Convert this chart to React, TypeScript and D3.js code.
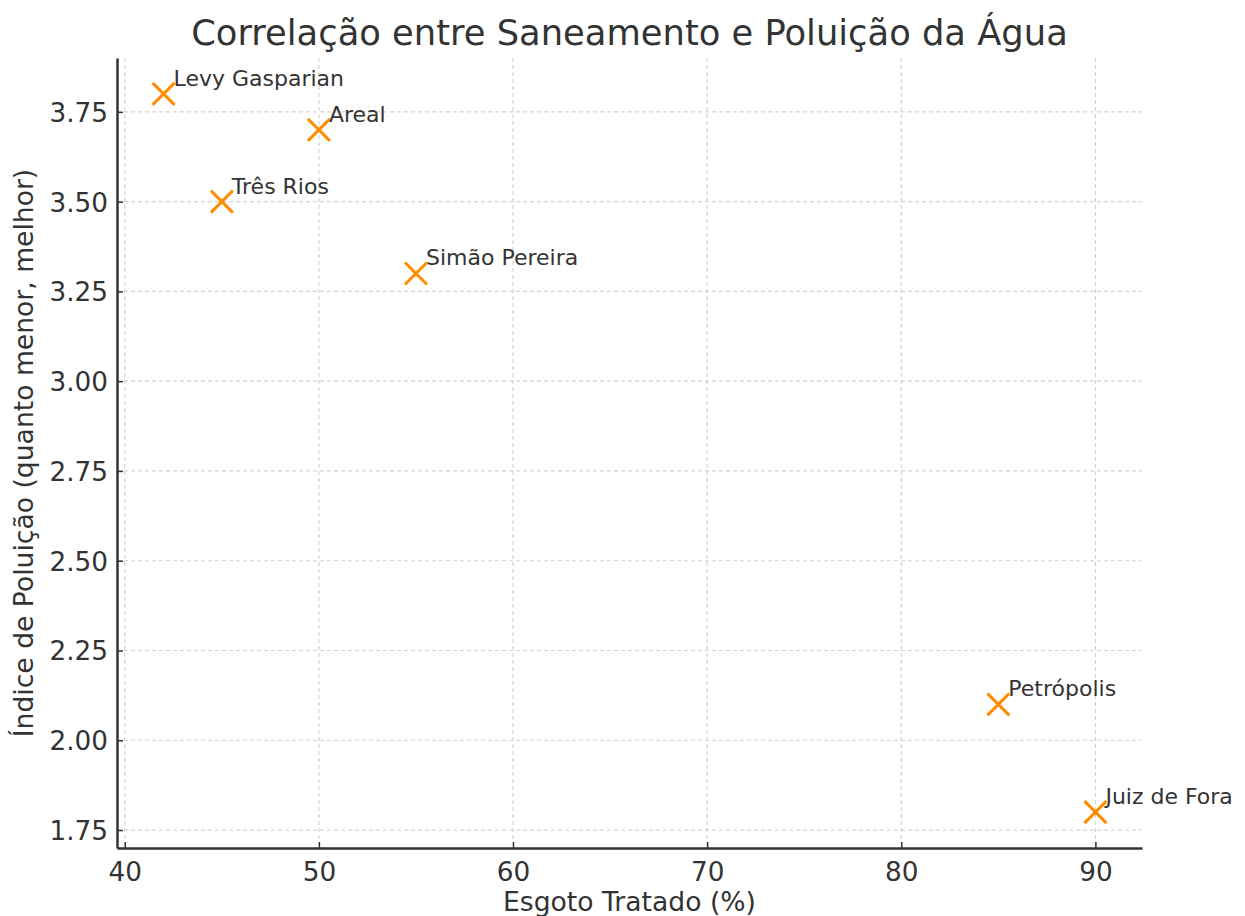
import React, { useEffect, useRef } from 'react';
import * as d3 from 'd3';

const cities = ['Levy Gasparian', 'Areal', 'Três Rios', 'Simão Pereira', 'Petrópolis', 'Juiz de Fora'];
const esgotoTratado = [42, 50, 45, 55, 85, 90];
const indicePoluicao = [3.8, 3.7, 3.5, 3.3, 2.1, 1.8];
const xTicks = [40, 50, 60, 70, 80, 90];
const yTicks = [1.75, 2.0, 2.25, 2.5, 2.75, 3.0, 3.25, 3.5, 3.75];

const W = 1245;
const H = 916;

const App = () => {
  const ref = useRef<SVGSVGElement>(null);

  useEffect(() => {
    const svg = d3.select(ref.current);
    svg.selectAll('*').remove();

    const margin = { top: 58, right: 103, bottom: 68, left: 117 };
    const chartWidth = W - margin.left - margin.right;
    const chartHeight = H - margin.top - margin.bottom;
    const font = '"DejaVu Sans", Verdana, sans-serif';
    const textColor = '#333';

    const g = svg.append('g').attr('transform', `translate(${margin.left},${margin.top})`);

    const x = d3.scaleLinear().domain([39.6, 92.4]).range([0, chartWidth]);
    const y = d3.scaleLinear().domain([1.7, 3.9]).range([chartHeight, 0]);

    // grid
    g.selectAll('.gx')
      .data(xTicks)
      .enter()
      .append('line')
      .attr('x1', d => x(d))
      .attr('x2', d => x(d))
      .attr('y1', 0)
      .attr('y2', chartHeight)
      .attr('stroke', '#d3d3d3')
      .attr('stroke-width', 1.2)
      .attr('stroke-dasharray', '4,3');

    g.selectAll('.gy')
      .data(yTicks)
      .enter()
      .append('line')
      .attr('x1', 0)
      .attr('x2', chartWidth)
      .attr('y1', d => y(d))
      .attr('y2', d => y(d))
      .attr('stroke', '#d3d3d3')
      .attr('stroke-width', 1.2)
      .attr('stroke-dasharray', '4,3');

    // axes
    const xAxis = g
      .append('g')
      .attr('transform', `translate(0,${chartHeight})`)
      .call(d3.axisBottom(x).tickValues(xTicks).tickSizeInner(-6).tickSizeOuter(0).tickPadding(14).tickFormat(d3.format('d')));

    const yAxis = g
      .append('g')
      .call(d3.axisLeft(y).tickValues(yTicks).tickSizeInner(-6).tickSizeOuter(0).tickPadding(9).tickFormat(d3.format('.2f')));

    [xAxis, yAxis].forEach(ax => {
      ax.select('.domain').attr('stroke', textColor).attr('stroke-width', 2.5);
      ax.selectAll('.tick line').attr('stroke', textColor).attr('stroke-width', 1.5);
      ax.selectAll('.tick text')
        .attr('fill', textColor)
        .style('font-family', font)
        .style('font-size', '26.3px');
    });
    xAxis.selectAll('.tick text').attr('dy', '0.71em');
    yAxis.selectAll('.tick text').attr('dy', '0.36em');

    // markers
    const s = 11;
    const pts = cities.map((c, i) => ({ name: c, ex: esgotoTratado[i], ip: indicePoluicao[i] }));

    const marks = g
      .selectAll('.mark')
      .data(pts)
      .enter()
      .append('g')
      .attr('transform', d => `translate(${x(d.ex)},${y(d.ip)})`);

    marks
      .append('path')
      .attr('d', `M${-s},${-s}L${s},${s}M${-s},${s}L${s},${-s}`)
      .attr('stroke', '#ff8c00')
      .attr('stroke-width', 3)
      .attr('fill', 'none');

    // labels
    marks
      .append('text')
      .attr('x', 10)
      .attr('y', -8)
      .text(d => d.name)
      .attr('fill', textColor)
      .style('font-family', font)
      .style('font-size', '22px');

    // titles
    svg
      .append('text')
      .attr('x', margin.left + chartWidth / 2)
      .attr('y', 45)
      .attr('text-anchor', 'middle')
      .attr('fill', textColor)
      .style('font-family', font)
      .style('font-size', '35.3px')
      .text('Correlação entre Saneamento e Poluição da Água');

    svg
      .append('text')
      .attr('x', margin.left + chartWidth / 2)
      .attr('y', 911)
      .attr('text-anchor', 'middle')
      .attr('fill', textColor)
      .style('font-family', font)
      .style('font-size', '26.6px')
      .text('Esgoto Tratado (%)');

    svg
      .append('text')
      .attr('transform', `translate(33,${margin.top + chartHeight / 2}) rotate(-90)`)
      .attr('text-anchor', 'middle')
      .attr('fill', textColor)
      .style('font-family', font)
      .style('font-size', '26.6px')
      .text('Índice de Poluição (quanto menor, melhor)');
  }, []);

  return (
    <svg
      ref={ref}
      width={W}
      height={H}
      style={{ position: 'absolute', left: 0, top: 0, background: '#fff' }}
    ></svg>
  );
};

export default App;
